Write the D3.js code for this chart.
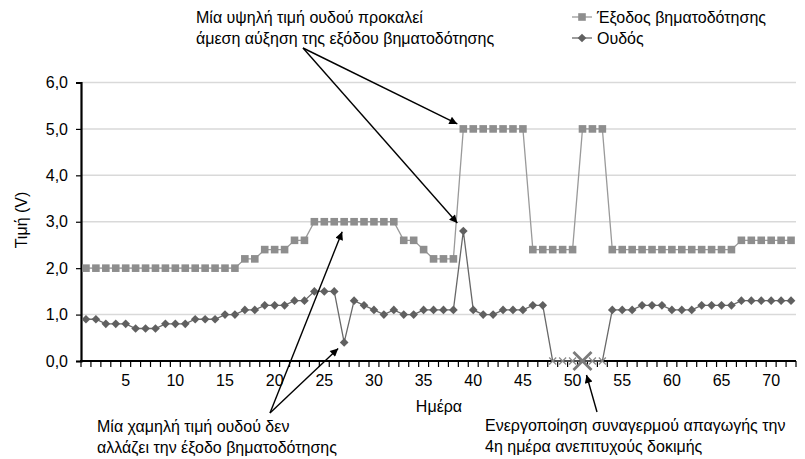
<!DOCTYPE html>
<html>
<head>
<meta charset="utf-8">
<script src="https://cdn.jsdelivr.net/npm/d3@7/dist/d3.min.js"></script>
<style>
  html, body { margin: 0; padding: 0; background: #fff; }
  svg { display: block; font-family: "Liberation Sans", Arial, sans-serif; }
</style>
</head>
<body>
<svg id="chart" width="805" height="459"></svg>
<script>
// Days of the trial
const days = d3.range(1, 73);

// Pacing output (V), one value per day
const outputValues = [
  2.0, 2.0, 2.0, 2.0, 2.0, 2.0, 2.0, 2.0, 2.0, 2.0,
  2.0, 2.0, 2.0, 2.0, 2.0, 2.0, 2.2, 2.2, 2.4, 2.4,
  2.4, 2.6, 2.6, 3.0, 3.0, 3.0, 3.0, 3.0, 3.0, 3.0,
  3.0, 3.0, 2.6, 2.6, 2.4, 2.2, 2.2, 2.2, 5.0, 5.0,
  5.0, 5.0, 5.0, 5.0, 5.0, 2.4, 2.4, 2.4, 2.4, 2.4,
  5.0, 5.0, 5.0, 2.4, 2.4, 2.4, 2.4, 2.4, 2.4, 2.4,
  2.4, 2.4, 2.4, 2.4, 2.4, 2.4, 2.6, 2.6, 2.6, 2.6,
  2.6, 2.6
];

// Capture threshold (V), one value per day (0 = no capture measured)
const thresholdValues = [
  0.9, 0.9, 0.8, 0.8, 0.8, 0.7, 0.7, 0.7, 0.8, 0.8,
  0.8, 0.9, 0.9, 0.9, 1.0, 1.0, 1.1, 1.1, 1.2, 1.2,
  1.2, 1.3, 1.3, 1.5, 1.5, 1.5, 0.4, 1.3, 1.2, 1.1,
  1.0, 1.1, 1.0, 1.0, 1.1, 1.1, 1.1, 1.1, 2.8, 1.1,
  1.0, 1.0, 1.1, 1.1, 1.1, 1.2, 1.2, 0.0, 0.0, 0.0,
  0.0, 0.0, 0.0, 1.1, 1.1, 1.1, 1.2, 1.2, 1.2, 1.1,
  1.1, 1.1, 1.2, 1.2, 1.2, 1.2, 1.3, 1.3, 1.3, 1.3,
  1.3, 1.3
];

// Day on which the loss-of-capture alarm fired
const alarmDay = 51;

const yTicks = [0, 1, 2, 3, 4, 5, 6];
const xTickLabels = [5, 10, 15, 20, 25, 30, 35, 40, 45, 50, 55, 60, 65, 70];

const seriesNames = ["Έξοδος βηματοδότησης", "Ουδός"];

const FONT = 16;
const svg = d3.select("#chart");
const plotLeft = 81, plotRight = 796, plotTop = 82.5, plotBottom = 361;

const x = d3.scaleBand().domain(days).range([plotLeft, plotRight]).padding(0);
const cx = d => x(d) + x.bandwidth() / 2;
const y = d3.scaleLinear().domain([0, 6]).range([plotBottom, plotTop]);

const fmt = v => d3.format(".1f")(v).replace(".", ",");

// Horizontal gridlines
svg.append("g")
  .selectAll("line")
  .data(yTicks.filter(t => t > 0))
  .join("line")
  .attr("x1", plotLeft).attr("x2", plotRight)
  .attr("y1", d => y(d)).attr("y2", d => y(d))
  .attr("stroke", "#d9d9d9").attr("stroke-width", 1.5);

// Y axis
const yAxis = svg.append("g")
  .attr("transform", `translate(${plotLeft},0)`)
  .call(d3.axisLeft(y).tickValues(yTicks).tickFormat(fmt).tickSize(5).tickPadding(8));
yAxis.select(".domain").attr("stroke", "#000").attr("stroke-width", 2.2);
yAxis.selectAll(".tick line").attr("stroke", "#000").attr("stroke-width", 1.2);
yAxis.selectAll(".tick text").attr("font-size", FONT).attr("fill", "#000")
  .attr("font-family", "'Liberation Sans', Arial, sans-serif");

// X axis: tick marks at category boundaries, labels at category centres
const boundaries = days.map(d => x(d)).concat([x(days[days.length - 1]) + x.bandwidth()]);
svg.append("g")
  .selectAll("line")
  .data(boundaries)
  .join("line")
  .attr("x1", d => d).attr("x2", d => d)
  .attr("y1", plotBottom).attr("y2", plotBottom + 6)
  .attr("stroke", "#000").attr("stroke-width", 1.2);

const xAxis = svg.append("g")
  .attr("transform", `translate(0,${plotBottom})`)
  .call(d3.axisBottom(x).tickValues(xTickLabels).tickSize(0).tickPadding(14));
xAxis.select(".domain").remove();
xAxis.selectAll(".tick text").attr("font-size", FONT).attr("fill", "#000")
  .attr("font-family", "'Liberation Sans', Arial, sans-serif");

svg.append("line")
  .attr("x1", plotLeft - 1).attr("x2", plotRight)
  .attr("y1", plotBottom).attr("y2", plotBottom)
  .attr("stroke", "#000").attr("stroke-width", 2.2);

// Axis titles
svg.append("text")
  .attr("transform", `translate(27,220) rotate(-90)`)
  .attr("text-anchor", "middle").attr("font-size", FONT).attr("fill", "#000")
  .text("Τιμή (V)");
svg.append("text")
  .attr("x", 439).attr("y", 412)
  .attr("text-anchor", "middle").attr("font-size", FONT).attr("fill", "#000")
  .text("Ημέρα");

const outColor = "#8e8e8e";
const thrColor = "#606060";
const line = d3.line().x((v, i) => cx(days[i])).y(v => y(v));

// Pacing output series
svg.append("path")
  .attr("d", line(outputValues))
  .attr("fill", "none").attr("stroke", "#9a9a9a").attr("stroke-width", 1.3);
svg.append("g")
  .selectAll("rect")
  .data(outputValues)
  .join("rect")
  .attr("x", (v, i) => cx(days[i]) - 3.8)
  .attr("y", v => y(v) - 3.8)
  .attr("width", 7.6).attr("height", 7.6)
  .attr("fill", outColor);

// Threshold series
svg.append("path")
  .attr("d", line(thresholdValues))
  .attr("fill", "none").attr("stroke", "#686868").attr("stroke-width", 1.3);
const diamond = d3.symbol().type(d3.symbolDiamond2).size(48);
svg.append("g")
  .selectAll("path")
  .data(thresholdValues.map((v, i) => ({ v, d: days[i] })).filter(p => p.v > 0))
  .join("path")
  .attr("transform", p => `translate(${cx(p.d)},${y(p.v)})`)
  .attr("d", diamond)
  .attr("fill", thrColor);

// Cross markers on days with no measured threshold
const cross = (s) => `M${-s},${-s}L${s},${s}M${-s},${s}L${s},${-s}`;
svg.append("g")
  .selectAll("path")
  .data(thresholdValues.map((v, i) => ({ v, d: days[i] })).filter(p => p.v === 0))
  .join("path")
  .attr("transform", p => `translate(${cx(p.d)},${y(p.v)})`)
  .attr("d", p => p.d === alarmDay ? cross(9) : cross(3.5))
  .attr("fill", "none")
  .attr("stroke", p => p.d === alarmDay ? "#7a7a7a" : "#8a8a8a")
  .attr("stroke-width", p => p.d === alarmDay ? 2.8 : 1.2);

// Legend
const legend = svg.append("g").attr("transform", "translate(572,17)");
seriesNames.forEach((name, i) => {
  const g = legend.append("g").attr("transform", `translate(0,${i * 21})`);
  g.append("line").attr("x1", 0).attr("x2", 20).attr("y1", 0).attr("y2", 0)
    .attr("stroke", i === 0 ? "#9a9a9a" : "#686868").attr("stroke-width", 1.3);
  if (i === 0) {
    g.append("rect").attr("x", 6.2).attr("y", -3.8).attr("width", 7.6).attr("height", 7.6).attr("fill", outColor);
  } else {
    g.append("path").attr("transform", "translate(10,0)").attr("d", diamond).attr("fill", thrColor);
  }
  g.append("text").attr("x", 25).attr("y", 5.5).attr("font-size", FONT).attr("fill", "#000").text(name);
});

// Annotations with arrows
const defs = svg.append("defs");
defs.append("marker")
  .attr("id", "arrow").attr("viewBox", "0 0 10 10")
  .attr("refX", 10).attr("refY", 5)
  .attr("markerWidth", 11).attr("markerHeight", 8)
  .attr("markerUnits", "userSpaceOnUse")
  .attr("orient", "auto")
  .append("path").attr("d", "M0,0L10,5L0,10z").attr("fill", "#000");

const annotations = [
  {
    lines: ["Μία υψηλή τιμή ουδού προκαλεί", "άμεση αύξηση της εξόδου βηματοδότησης"],
    tx: 196, ty: 23,
    from: [303, 48],
    targets: [
      { day: 39, value: outputValues[38], dx: -6, dy: -5 },
      { day: 39, value: thresholdValues[38], dx: -6, dy: -8 }
    ]
  },
  {
    lines: ["Μία χαμηλή τιμή ουδού δεν", "αλλάζει την έξοδο βηματοδότησης"],
    tx: 97, ty: 432,
    from: [270, 413],
    targets: [
      { day: 27, value: outputValues[26], dx: -2, dy: 10 },
      { day: 27, value: thresholdValues[26], dx: -6, dy: 6 }
    ]
  },
  {
    lines: ["Ενεργοποίηση συναγερμού απαγωγής την", "4η ημέρα ανεπιτυχούς δοκιμής"],
    tx: 485, ty: 431,
    from: [597, 412],
    targets: [
      { day: alarmDay, value: 0, dx: 4, dy: 14 }
    ]
  }
];

annotations.forEach(a => {
  const t = svg.append("text").attr("font-size", FONT).attr("fill", "#000");
  a.lines.forEach((l, i) => {
    t.append("tspan").attr("x", a.tx).attr("y", a.ty + i * 21).text(l);
  });
  a.targets.forEach(tg => {
    svg.append("line")
      .attr("x1", a.from[0]).attr("y1", a.from[1])
      .attr("x2", cx(tg.day) + tg.dx).attr("y2", y(tg.value) + tg.dy)
      .attr("stroke", "#000").attr("stroke-width", 1.4)
      .attr("marker-end", "url(#arrow)");
  });
});
</script>
</body>
</html>
